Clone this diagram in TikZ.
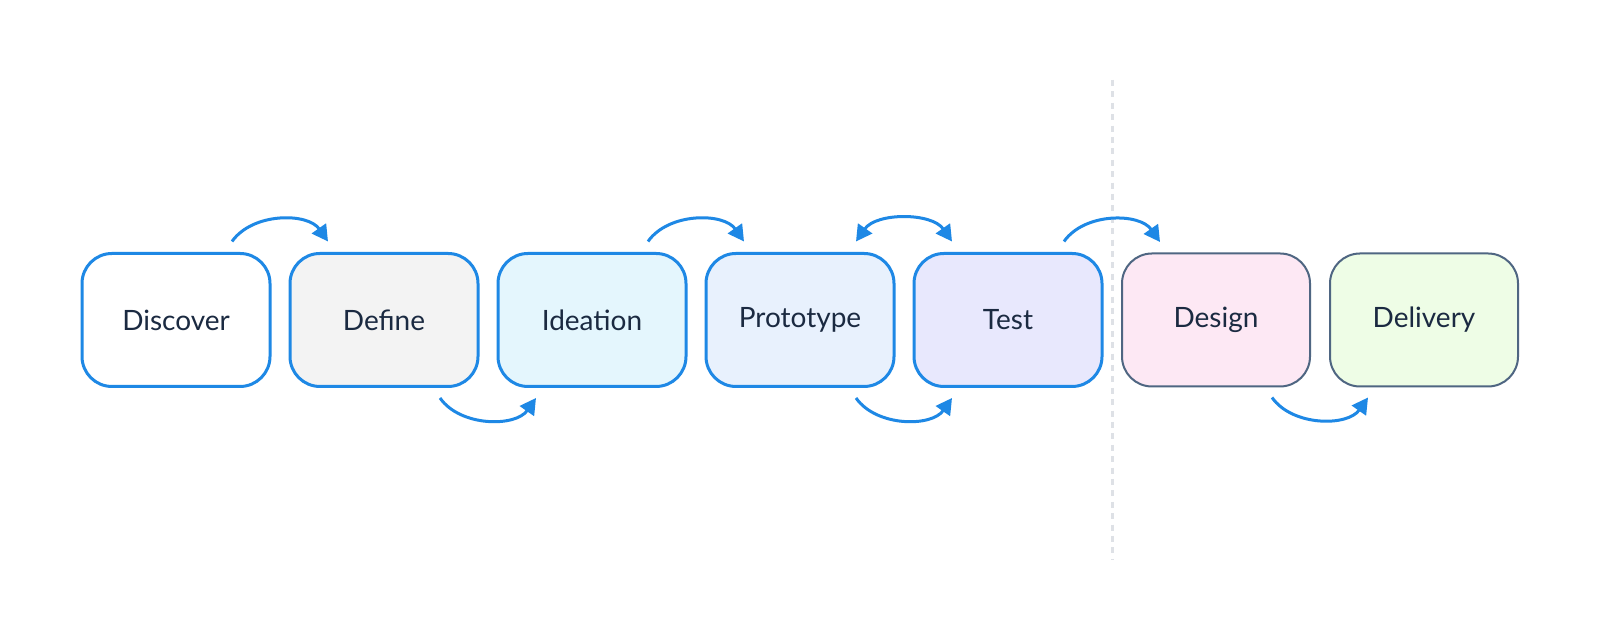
\documentclass[tikz,border=0pt]{standalone}
\usepackage{fontspec}
\setmainfont{Lato}
\usetikzlibrary{arrows.meta,calc}
\definecolor{arrowblue}{HTML}{1E88E5}
\definecolor{slateb}{HTML}{4F6682}
\definecolor{txt}{HTML}{1B2A41}
\definecolor{fDefine}{HTML}{F3F3F3}
\definecolor{fIdea}{HTML}{E4F6FD}
\definecolor{fProto}{HTML}{E8F1FD}
\definecolor{fTest}{HTML}{E8E8FD}
\definecolor{fDesign}{HTML}{FDE8F4}
\definecolor{fDeliv}{HTML}{EEFDE6}
\definecolor{dashgray}{HTML}{DEE1E6}
\tikzset{
  stage/.style={draw=arrowblue, line width=1.5pt, rounded corners=15pt,
    minimum width=94pt, minimum height=66.5pt, inner sep=0pt,
    text=txt, font=\fontsize{14}{16}\selectfont},
  stagegray/.style={stage, draw=slateb, line width=1pt},
  flow/.style={draw=arrowblue, line width=1.5pt, -{Triangle[length=8pt,width=8.5pt]}},
  flowboth/.style={draw=arrowblue, line width=1.5pt, {Triangle[length=8pt,width=8.5pt]}-{Triangle[length=8pt,width=8.5pt]}},
  sep/.style={draw=dashgray, line width=1.5pt, dash pattern=on 3pt off 2.7pt}
}
\begin{document}
\begin{tikzpicture}[x=0.5pt,y=0.5pt]
\useasboundingbox[fill=white] (0,0) rectangle (1600,640);
% separator
\coordinate (sepTop) at (1112,560);
\coordinate (sepBot) at (1112,81);
\draw[sep] (sepTop) -- (sepBot);
% stages
\node[stage, fill=white]   (n1) at (176,320) {Discover};
\node[stage, fill=fDefine] (n2) at (384,320) {Define};
\node[stage, fill=fIdea]   (n3) at (592,320) {Ideation};
\node[stage, fill=fProto]  (n4) at (800,320) {Prototype};
\node[stage, fill=fTest]   (n5) at (1008,320) {Test};
\node[stagegray, fill=fDesign] (n6) at (1216,320) {Design};
\node[stagegray, fill=fDeliv]  (n7) at (1424,320) {Delivery};
% anchor points for arcs
\foreach \i in {1,...,7}{
  \coordinate (t\i r) at ($(n\i.north)+(56,10.5)$);
  \coordinate (t\i l) at ($(n\i.north)+(-56,10.5)$);
  \coordinate (b\i r) at ($(n\i.south)+(56,-10)$);
  \coordinate (b\i l) at ($(n\i.south)+(-56,-10)$);
}
\tikzset{up/.style={out=55,in=125,looseness=0.95}, down/.style={out=-55,in=-125,looseness=0.95}}
\draw[flow] (t1r) to[up] (t2l);
\draw[flow] (b2r) to[down] (b3l);
\draw[flow] (t3r) to[up] (t4l);
\draw[flowboth] (t4r) to[up] (t5l);
\draw[flow] (b4r) to[down] (b5l);
\draw[flow] (t5r) to[up] (t6l);
\draw[flow] (b6r) to[down] (b7l);
\end{tikzpicture}
\end{document}
